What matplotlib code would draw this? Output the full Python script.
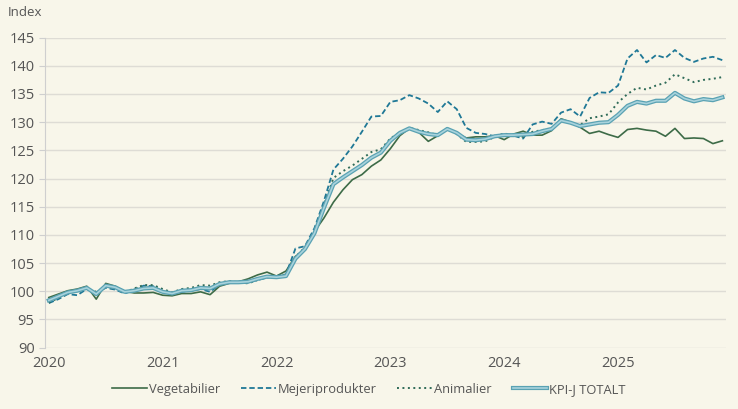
import numpy as np
import matplotlib.pyplot as plt
import matplotlib.patheffects as pe

plt.rcParams['font.family'] = ['Open Sans', 'DejaVu Sans']

YEARS = ['2020', '2021', '2022', '2023', '2024', '2025']

# månadsvärden jan 2020 - dec 2025
vegetabilier = [
    98.9, 99.5, 100.1, 100.4, 100.9, 98.6, 101.4, 100.9, 100.0, 99.7, 99.7, 99.8,
    99.3, 99.2, 99.6, 99.6, 99.9, 99.4, 100.9, 101.4, 101.7, 102.2, 102.9, 103.4,
    102.7, 103.6, 106.2, 107.3, 110.6, 113.0, 115.8, 118.0, 119.8, 120.7, 122.2, 123.3,
    125.3, 127.6, 128.9, 128.2, 126.6, 127.6, 128.9, 128.0, 127.2, 127.4, 127.4, 127.6,
    126.9, 127.9, 128.4, 127.7, 127.7, 128.5, 130.6, 130.0, 129.1, 128.0, 128.4, 127.8,
    127.3, 128.7, 128.9, 128.6, 128.4, 127.5, 128.9, 127.1, 127.2, 127.1, 126.2, 126.7,
]
mejeri = [
    97.9, 98.6, 99.5, 99.3, 100.4, 99.8, 100.6, 100.3, 99.6, 100.3, 101.0, 100.9,
    100.0, 99.5, 99.9, 100.1, 100.4, 99.9, 101.2, 101.7, 101.5, 101.5, 102.0, 102.4,
    102.7, 103.0, 107.6, 108.0, 111.2, 116.0, 121.6, 123.5, 125.7, 128.3, 131.0, 131.1,
    133.6, 133.9, 134.8, 134.2, 133.3, 131.8, 133.7, 132.3, 129.0, 128.1, 127.9, 127.5,
    127.9, 127.6, 127.1, 129.6, 130.1, 129.7, 131.7, 132.3, 131.0, 134.3, 135.3, 135.2,
    136.5, 141.3, 142.8, 140.6, 141.9, 141.4, 142.8, 141.4, 140.7, 141.3, 141.6, 141.0,
]
animalier = [
    98.0, 98.8, 99.6, 100.0, 100.5, 99.9, 100.8, 100.6, 99.8, 100.5, 101.1, 101.1,
    100.4, 99.8, 100.4, 100.6, 101.1, 101.0, 101.6, 101.8, 101.6, 101.4, 102.0, 102.6,
    102.7, 102.9, 106.1, 107.8, 110.5, 115.3, 120.1, 121.3, 122.3, 123.5, 124.7, 125.2,
    127.1, 128.2, 129.0, 128.6, 128.2, 127.7, 128.9, 127.9, 126.5, 126.5, 126.6, 127.4,
    128.0, 127.6, 127.4, 128.3, 128.6, 128.8, 130.4, 129.9, 129.5, 130.7, 131.0, 131.4,
    133.5, 135.0, 136.1, 135.8, 136.5, 137.0, 138.5, 137.8, 137.1, 137.5, 137.7, 138.0,
]
kpij_totalt = [
    98.4, 99.1, 99.8, 100.1, 100.6, 99.5, 101.0, 100.7, 99.9, 100.1, 100.5, 100.6,
    99.9, 99.6, 100.1, 100.2, 100.6, 100.5, 101.3, 101.6, 101.6, 101.7, 102.2, 102.6,
    102.5, 102.7, 105.8, 107.5, 110.3, 114.8, 119.0, 120.2, 121.3, 122.4, 123.7, 124.6,
    126.7, 128.1, 128.9, 128.3, 127.9, 127.7, 128.8, 128.1, 126.9, 126.8, 127.0, 127.5,
    127.7, 127.7, 127.8, 127.9, 128.4, 128.8, 130.3, 129.9, 129.3, 129.6, 129.9, 130.0,
    131.3, 132.9, 133.6, 133.3, 133.8, 133.8, 135.2, 134.2, 133.7, 134.1, 133.9, 134.4,
]

BG = '#f8f6ea'
TXT = '#555555'
GREEN = '#3d6b47'
BLUE = '#1f7896'
DOT = '#2f6b58'

x = np.arange(len(vegetabilier))

fig = plt.figure(figsize=(7.38, 4.09), dpi=100, facecolor=BG)
ax = fig.add_axes([0.061, 0.150, 0.923, 0.758], facecolor=BG)

ax.set_ylim(90, 145)
ax.set_xlim(-0.4, 71.4)
ax.set_yticks(np.arange(90, 146, 5))
ax.set_xticks(np.arange(0, 72, 12))
ax.set_xticklabels(YEARS)
ax.grid(axis='y', color='#dedcd5', lw=1)
ax.set_axisbelow(True)

for s in ['top', 'right', 'bottom']:
    ax.spines[s].set_visible(False)
ax.spines['left'].set_color('#cfcfcf')
ax.tick_params(axis='y', colors='#cfcfcf', labelcolor=TXT, labelsize=10.5, length=4)
ax.tick_params(axis='x', length=0, labelcolor=TXT, labelsize=10.5, pad=6)

ax.plot(x, vegetabilier, color=GREEN, lw=1.2, label='Vegetabilier')
ax.plot(x, mejeri, color=BLUE, lw=1.3, ls=(0, (3, 1.6)), label='Mejeriprodukter')
ax.plot(x, animalier, color=DOT, lw=1.4, ls=(0, (1, 1.8)), label='Animalier')
# dubbel linje: mörk kant + ljus kärna
ax.plot(x, kpij_totalt, color='#a9d3dc', lw=1.2, label='KPI-J TOTALT',
        path_effects=[pe.Stroke(linewidth=3.0, foreground='#5aa2b3'), pe.Normal()])

fig.text(0.010, 0.970, 'Index', color=TXT, fontsize=9.5, va='center')

ax.legend(loc='center', bbox_to_anchor=(0.5, 0.048), bbox_transform=fig.transFigure,
          ncol=4, frameon=False, fontsize=9.3, labelcolor=TXT, handlelength=2.7,
          handletextpad=0.15, columnspacing=1.6)

fig.savefig('out.png', facecolor=BG)
